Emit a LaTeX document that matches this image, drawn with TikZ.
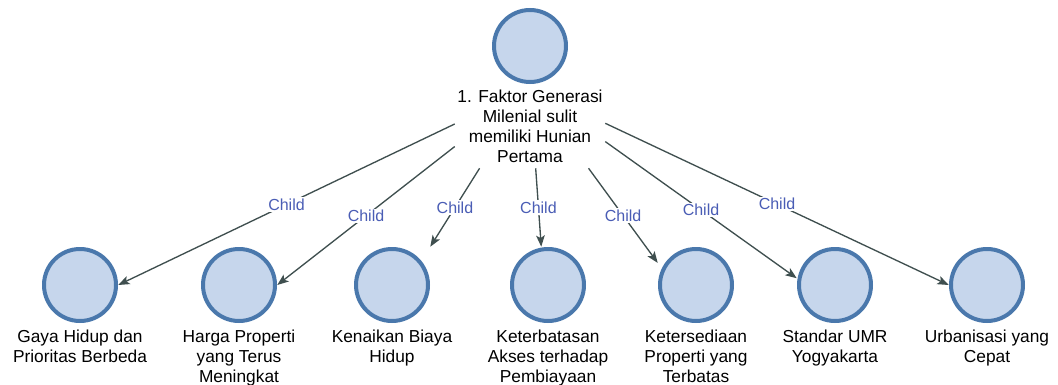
\documentclass[tikz,border=0pt]{standalone}
\usepackage{fontspec}
\setmainfont{Liberation Sans}
\usetikzlibrary{arrows.meta}

\definecolor{ballfill}{HTML}{C6D6EC}
\definecolor{ballline}{HTML}{4A78AC}
\definecolor{linkcol}{HTML}{3F4F4F}
\definecolor{tagcol}{HTML}{4A5DB5}

\begin{document}
\begin{tikzpicture}[x=0.75pt,y=-0.75pt,
    ball/.style={minimum size=57pt,inner sep=0pt,
        path picture={\draw[ballline,fill=ballfill,line width=3pt]
            (path picture bounding box.center) circle[radius=27pt];}},
    topbox/.style={minimum width=112.5pt,minimum height=120pt,inner sep=0pt,
        path picture={\draw[ballline,fill=ballfill,line width=3pt]
            ([yshift=-28.5pt]path picture bounding box.north) circle[radius=27pt];}},
    txt/.style={align=center,font=\fontsize{13}{15}\selectfont,inner sep=1pt},
    link/.style={linkcol,line width=1pt,-{Stealth[length=8.5pt,width=6.5pt,inset=2pt]}},
    tag/.style={fill=white,text=tagcol,font=\fontsize{12}{14}\selectfont,inner sep=1pt}]
    \useasboundingbox (0,0) rectangle (1058,385);
    \node[topbox] (root) at (530,88) {};
    \node[txt,anchor=south] (roottxt) at ([yshift=3pt]root.south) {1. Faktor Generasi\\Milenial sulit\\memiliki Hunian\\Pertama};
    \foreach \n/\x/\t in {1/80/{Gaya Hidup dan\\Prioritas Berbeda},
        2/239/{Harga Properti\\yang Terus\\Meningkat},
        3/392/{Kenaikan Biaya\\Hidup},
        4/548/{Keterbatasan\\Akses terhadap\\Pembiayaan},
        5/696/{Ketersediaan\\Properti yang\\Terbatas},
        6/835/{Standar UMR\\Yogyakarta},
        7/987/{Urbanisasi yang\\Cepat}}{
        \node[ball] (c\n) at (\x,285) {};
        \node[txt,anchor=north] (t\n) at ([yshift=-3.5pt]c\n.south) {\t};
    }
    \foreach \n/\a in {1/east,2/east,3/north east,4/100,5/150,6/170,7/west}
        \draw[link] (root) -- (c\n.\a) node[tag,pos=.5] {Child};
\end{tikzpicture}
\end{document}
